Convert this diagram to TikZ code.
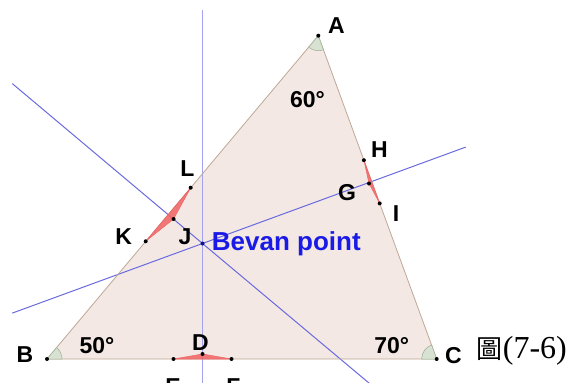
\documentclass[tikz,border=0pt]{standalone}
\usepackage{fontspec}
\setsansfont{Liberation Sans}
\newfontfamily\cjkfont{Noto Sans CJK TC}
\newfontfamily\capfont{Liberation Serif}
\usetikzlibrary{calc}
\definecolor{trifill}{HTML}{F3E8E3}
\definecolor{triedge}{HTML}{BFA896}
\definecolor{perpblue}{HTML}{6A6AE0}
\definecolor{vertblue}{HTML}{A2A2F0}
\definecolor{angfill}{HTML}{D8E2D2}
\definecolor{angedge}{HTML}{9EAE96}
\definecolor{markred}{HTML}{F06464}
\definecolor{bevanblue}{HTML}{1A1AE6}

\begin{document}
\begin{tikzpicture}[
    x=1pt, y=-1pt,
    side/.style={draw=triedge, line width=0.8pt},
    perp/.style={draw=perpblue, line width=1pt},
    angmark/.style={fill=angfill, draw=angedge, line width=0.5pt},
    redmark/.style={fill=markred, fill opacity=0.85, draw=markred, line width=0.5pt},
    dot/.style={fill=black},
    lbl/.style={font=\sffamily\bfseries\fontsize{23}{27}\selectfont, inner sep=0pt, anchor=base},
    bevan/.style={font=\sffamily\bfseries\fontsize{26}{30}\selectfont, text=bevanblue, inner sep=0pt, anchor=base west}
]
    \useasboundingbox (0,0) rectangle (571,383);
    \clip (0,0) rectangle (571,383);

    % Vertices and Bevan point
    \coordinate (A) at (318.3,35.7);
    \coordinate (B) at (47,359);
    \coordinate (C) at (436.7,359);
    \coordinate (V) at (202.5,243.5);

    % Points near the sides
    \coordinate (D) at (202.5,354);
    \coordinate (E) at (173.5,359);
    \coordinate (F) at (231.5,359);
    \coordinate (G) at (369,183.5);
    \coordinate (H) at (363.9,160.2);
    \coordinate (I) at (379.7,203.4);
    \coordinate (J) at (173.6,219);
    \coordinate (K) at (145.7,241.3);
    \coordinate (L) at (190.7,187.7);

    % Triangle
    \fill[trifill] (A) -- (B) -- (C) -- cycle;

    % Perpendiculars through the Bevan point
    \draw[perp, draw=vertblue] (202.5,10) -- (V) -- (202.5,400);
    \draw[perp] (12.3,83.6) -- (V) -- ($(V)!250pt!(394,404)$);
    \draw[perp] (12.3,313.1) -- (V) -- (465.7,147.1);

    \draw[side] (A) -- (B) -- (C) -- cycle;

    % Red marks
    \path[redmark] (E) -- (D) -- (F) -- cycle;
    \path[redmark] (H) -- (G) -- (I) -- cycle;
    \path[redmark] (K) -- (J) -- (L) -- cycle;

    % Angle marks
    \path[angmark] (B) -- ++(0:15) arc[start angle=0, end angle=-50, radius=15] -- cycle;
    \path[angmark] (C) -- ++(180:15) arc[start angle=180, end angle=250, radius=15] -- cycle;
    \path[angmark] (A) -- ++(70:15) arc[start angle=70, end angle=130, radius=15] -- cycle;

    % Dots
    \foreach \p in {A,B,C,D,E,F,G,H,I,J,K,L}
        \fill[dot] (\p) circle (2);
    \fill[bevanblue!60!black] (V) circle (2);

    % Labels
    \node[lbl] (labA) at (336.5,33) {A};
    \node[lbl] (labB) at (25,362.7) {B};
    \node[lbl] (labC) at (453.5,363) {C};
    \node[lbl] (labD) at (200.5,350) {D};
    \node[lbl] (labE) at (173,394.5) {E};
    \node[lbl] (labF) at (233.5,394.5) {F};
    \node[lbl] (labG) at (347,200) {G};
    \node[lbl] (labH) at (379.5,157) {H};
    \node[lbl] (labI) at (396,221.7) {I};
    \node[lbl] (labJ) at (185,244) {J};
    \node[lbl] (labK) at (123.7,244) {K};
    \node[lbl] (labL) at (187.5,176) {L};
    \node[lbl] (angB) at (97,353) {50°};
    \node[lbl] (angA) at (307.5,107) {60°};
    \node[lbl] (angC) at (391.7,353) {70°};
    \node[bevan] (labV) at (211.7,250.7) {Bevan point};

    % Caption
    \node[inner sep=0pt, anchor=base west] (caption) at (476.7,358)
        {{\cjkfont\fontsize{26}{30}\selectfont 圖}{\capfont\fontsize{32}{36}\selectfont(7-6)}};
\end{tikzpicture}
\end{document}
